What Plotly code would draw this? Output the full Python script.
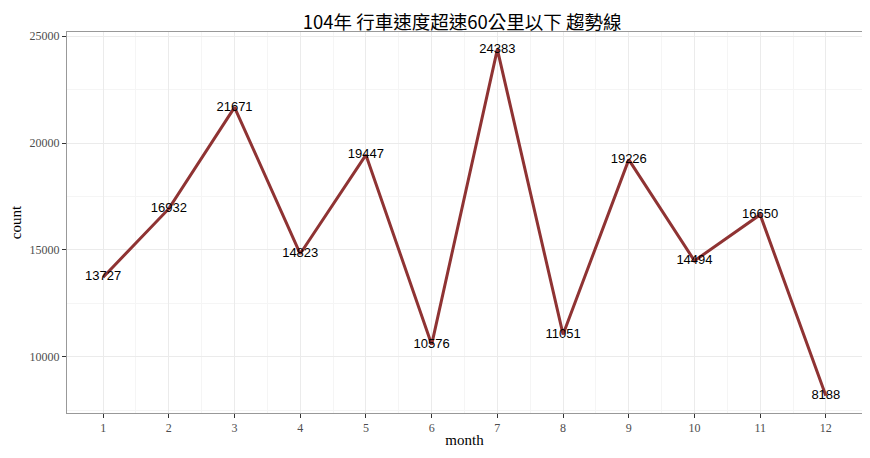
import plotly.graph_objects as go

months = [1, 2, 3, 4, 5, 6, 7, 8, 9, 10, 11, 12]
counts = [13727, 16932, 21671, 14823, 19447, 10576, 24383, 11051, 19226, 14494, 16650, 8188]
y_ticks = [10000, 15000, 20000, 25000]
title_text = "104年 行車速度超速60公里以下 趨勢線"

serif = "Liberation Serif, Noto Sans CJK TC, serif"

fig = go.Figure()
fig.add_trace(go.Scatter(
    x=months, y=counts, mode="lines",
    line=dict(color="#8f3333", width=3),
    hoverinfo="skip", showlegend=False,
))
fig.add_trace(go.Scatter(
    x=months, y=counts, mode="text",
    text=[str(v) for v in counts], textposition="middle center",
    textfont=dict(family="Liberation Sans, Arial, sans-serif", size=13, color="black"),
    showlegend=False,
))

fig.update_layout(
    width=870, height=458,
    margin=dict(l=59, r=16, t=24, b=53, autoexpand=False),
    paper_bgcolor="white", plot_bgcolor="white",
    title=dict(text=title_text, x=0.522, xanchor="center", y=0.969, yanchor="middle",
               automargin=False,
               font=dict(family="Noto Sans CJK TC, Liberation Serif, serif", size=18.5, color="black")),
    font=dict(family=serif, color="#4d4d4d"),
)
fig.update_xaxes(
    range=[0.45, 12.55], tickmode="array", tickvals=months, ticktext=[str(m) for m in months],
    showgrid=True, gridcolor="#ebebeb", gridwidth=1,
    minor=dict(tickmode="array", tickvals=[m + 0.5 for m in months[:-1]], showgrid=True, gridcolor="#f5f5f5", gridwidth=0.5),
    ticks="outside", ticklen=4, tickcolor="#333333", tickwidth=1,
    tickfont=dict(family=serif, size=12, color="#4d4d4d"),
    showline=True, linecolor="#999999", linewidth=1, mirror=True, zeroline=False,
    automargin=False,
    title=dict(text="month", font=dict(family=serif, size=15, color="black"), standoff=0),
)
fig.update_yaxes(
    range=[7378, 25193], tickmode="array", tickvals=y_ticks, ticktext=[str(v) for v in y_ticks],
    showgrid=True, gridcolor="#ebebeb", gridwidth=1,
    minor=dict(tickmode="array", tickvals=[7500, 12500, 17500, 22500], showgrid=True, gridcolor="#f5f5f5", gridwidth=0.5),
    ticks="outside", ticklen=4, tickcolor="#333333", tickwidth=1,
    tickfont=dict(family=serif, size=12, color="#4d4d4d"),
    showline=True, linecolor="#999999", linewidth=1, mirror=True, zeroline=False,
    automargin=False,
    title=dict(text="count", font=dict(family=serif, size=15, color="black"), standoff=7),
)

fig.write_html("out.html")
